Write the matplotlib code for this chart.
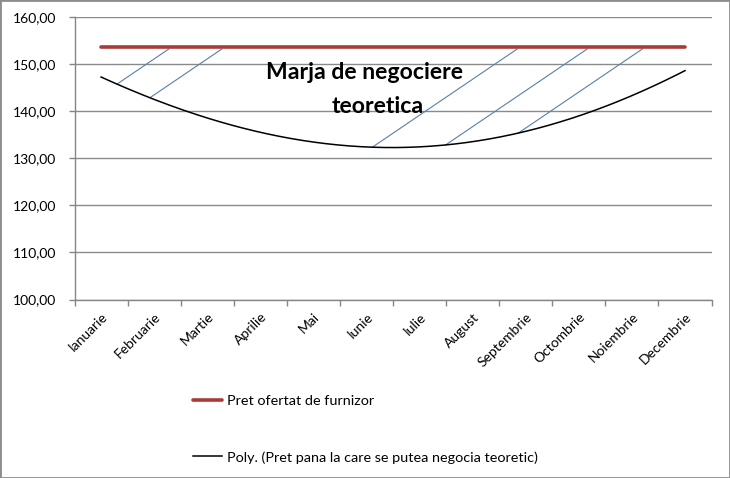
import numpy as np
import matplotlib
matplotlib.use("Agg")
import matplotlib.pyplot as plt
from matplotlib.patches import Rectangle

plt.rcParams['font.family'] = ['Lato', 'DejaVu Sans']

# ---- data ----
months = ["Ianuarie", "Februarie", "Martie", "Aprilie", "Mai", "Iunie", "Iulie",
          "August", "Septembrie", "Octombrie", "Noiembrie", "Decembrie"]
offered_price = [153.5] * 12
negotiable_price = [147.1, 142.6, 138.6, 135.4, 133.3, 132.3, 132.2,
                    133.8, 135.9, 138.8, 143.0, 148.7]
yticks = [100, 110, 120, 130, 140, 150, 160]
hatch_start = [0.30, 0.92, 5.11, 6.49, 7.86]   # month position where hatch lines start
label_offered = "Pret ofertat de furnizor"
label_poly = "Poly. (Pret pana la care se putea negocia teoretic)"
annot_line1 = "Marja de negociere"
annot_line2 = "teoretica"

# ---- figure ----
fig = plt.figure(figsize=(7.30, 4.78), dpi=100)
ax = fig.add_axes([0.1021, 0.3734, 0.8726, 0.5917])

x = np.arange(len(months))
red = '#A83B38'
ax.plot(x, offered_price, color=red, lw=2.6, solid_capstyle='round', zorder=4,
        label=label_offered)

coef = np.polyfit(x, negotiable_price, 4)
xf = np.linspace(0, len(months) - 1, 300)
ax.plot(xf, np.polyval(coef, xf), color='black', lw=1.1, zorder=3, label=label_poly)

# hatch lines between trend and offered price
slope = 0.131
for hs in hatch_start:
    y0 = np.polyval(coef, hs)
    y1 = offered_price[0] - 0.35
    ax.plot([hs, hs + (y1 - y0) * slope], [y0, y1], color='#5A7FA8', lw=0.8, zorder=2)

ax.text(4.97, 146.7, annot_line1, ha='center', va='baseline', fontsize=16.6,
        fontweight='bold', zorder=5)
ax.text(5.22, 139.5, annot_line2, ha='center', va='baseline', fontsize=16.6,
        fontweight='bold', zorder=5)

ax.set_xlim(-0.5, len(months) - 0.5)
ax.set_ylim(100, 160)
ax.set_yticks(yticks)
ax.set_yticklabels([f"{v:.2f}".replace('.', ',') for v in yticks], fontsize=10)
ax.yaxis.grid(True, color='#8A8A8A', lw=1)
ax.set_axisbelow(True)
ax.tick_params(axis='y', length=4.5, width=1, color='#868686', pad=9)

ax.set_xticks(np.arange(-0.5, len(months), 1))
ax.set_xticklabels([])
ax.set_xticks(x, minor=True)
ax.set_xticklabels(months, minor=True, rotation=45, ha='right', va='top',
                   rotation_mode='anchor', fontsize=10)
ax.tick_params(axis='x', which='major', length=4, width=1, color='#868686')
ax.tick_params(axis='x', which='minor', length=0, pad=8)

for s in ['top', 'right']:
    ax.spines[s].set_visible(False)
for s in ['left', 'bottom']:
    ax.spines[s].set_color('#868686')
    ax.spines[s].set_linewidth(1)

h, l = ax.get_legend_handles_labels()
fig.legend(h, l, loc='upper left', bbox_to_anchor=(0.264, 0.174), frameon=False,
           fontsize=10.4, handlelength=2.0, handletextpad=0.4, labelspacing=3.05,
           borderpad=0, borderaxespad=0)

fig.patches.append(Rectangle((0, 0), 1, 1, transform=fig.transFigure, fill=False,
                             edgecolor='#8C8C8C', lw=2))

fig.savefig('out.png', dpi=100)
